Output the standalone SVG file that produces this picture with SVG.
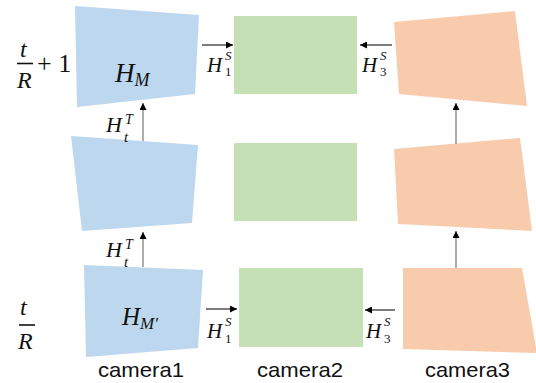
<svg xmlns="http://www.w3.org/2000/svg" width="536" height="383" viewBox="0 0 536 383">
<style>
.blue{fill:#BDD7EE}
.green{fill:#C5E0B4}
.orange{fill:#F8CBAD}
.m{font-family:"Liberation Serif","DejaVu Serif",serif;font-style:italic;fill:#111}
.u{font-style:normal}
.cam{font-family:"Liberation Sans","Noto Sans",sans-serif;font-size:21px;fill:#111}
.v{stroke:#808080;stroke-width:1.3;fill:none}
.h{stroke:#111;stroke-width:1.1;fill:none}
</style>
<defs>
<marker id="ah" viewBox="0 0 10 10" refX="10" refY="5" markerWidth="9" markerHeight="7" markerUnits="userSpaceOnUse" orient="auto">
<path d="M0,0 L10,5 L0,10 z" fill="#000"/>
</marker>
</defs>
<g id="time-labels">
<text class="m" x="20" y="57" font-size="24">t</text>
<line x1="17" y1="63.5" x2="33" y2="63.5" stroke="#111" stroke-width="1.6"/>
<text class="m" x="17" y="88" font-size="24">R</text>
<text class="m u" x="37" y="72" font-size="26">+ 1</text>
<text class="m" x="20" y="315" font-size="24">t</text>
<line x1="19" y1="325" x2="35" y2="325" stroke="#111" stroke-width="1.6"/>
<text class="m" x="18" y="349" font-size="24">R</text>
</g>
<g id="cam1-t1">
<polygon class="blue" points="75,6 199,15 195,94 77,107"/>
<text class="m" x="115" y="82" font-size="27">H<tspan font-size="18" dy="4">M</tspan></text>
</g>
<g id="cam2-t1"><rect class="green" x="234" y="16" width="123" height="78"/></g>
<g id="cam3-t1"><polygon class="orange" points="394,22 515,11 527,106 399,94"/></g>
<g id="cam1-mid"><polygon class="blue" points="71,136 198,145 192,223 82,231"/></g>
<g id="cam2-mid"><rect class="green" x="234" y="143" width="123" height="78"/></g>
<g id="cam3-mid"><polygon class="orange" points="394,149 520,138 532,231 398,224"/></g>
<g id="cam1-t0">
<polygon class="blue" points="84,265 203,270 198,348 86,357"/>
<text class="m" x="122" y="325" font-size="25">H<tspan font-size="17" dy="4">M′</tspan></text>
</g>
<g id="cam2-t0"><rect class="green" x="239" y="268" width="124" height="79"/></g>
<g id="cam3-t0"><polygon class="orange" points="403,268 522,268 537,353 403,349"/></g>
<g id="connectors">
<line class="v" x1="143" y1="141" x2="143" y2="103" marker-end="url(#ah)"/>
<line class="v" x1="143" y1="267" x2="143" y2="232" marker-end="url(#ah)"/>
<line class="v" x1="456" y1="144" x2="456" y2="103" marker-end="url(#ah)"/>
<line class="v" x1="456" y1="268" x2="456" y2="231" marker-end="url(#ah)"/>
<line class="h" x1="202" y1="45" x2="233" y2="45" marker-end="url(#ah)"/>
<line class="h" x1="392" y1="45" x2="360" y2="45" marker-end="url(#ah)"/>
<line class="h" x1="206" y1="309" x2="237" y2="309" marker-end="url(#ah)"/>
<line class="h" x1="395" y1="310" x2="365" y2="310" marker-end="url(#ah)"/>
</g>
<g id="edge-labels">
<text class="m" x="106" y="132" font-size="22">H</text>
<text class="m" x="125" y="124" font-size="14">T</text>
<text class="m" x="124" y="142" font-size="15">t</text>
<text class="m" x="106" y="257" font-size="22">H</text>
<text class="m" x="125" y="249" font-size="14">T</text>
<text class="m" x="124" y="267" font-size="15">t</text>
<text class="m" x="207" y="72" font-size="21">H</text>
<text class="m" x="225" y="60" font-size="13">S</text>
<text class="m u" x="225" y="76" font-size="13">1</text>
<text class="m" x="362" y="72" font-size="21">H</text>
<text class="m" x="380" y="60" font-size="13">S</text>
<text class="m u" x="380" y="76" font-size="13">3</text>
<text class="m" x="207" y="338" font-size="21">H</text>
<text class="m" x="225" y="326" font-size="13">S</text>
<text class="m u" x="225" y="343" font-size="13">1</text>
<text class="m" x="366" y="338" font-size="21">H</text>
<text class="m" x="384" y="326" font-size="13">S</text>
<text class="m u" x="384" y="343" font-size="13">3</text>
</g>
<g id="camera-labels">
<text class="cam" x="98" y="377" textLength="86" lengthAdjust="spacingAndGlyphs">camera1</text>
<text class="cam" x="257" y="377" textLength="86" lengthAdjust="spacingAndGlyphs">camera2</text>
<text class="cam" x="425" y="377" textLength="85" lengthAdjust="spacingAndGlyphs">camera3</text>
</g>
</svg>
